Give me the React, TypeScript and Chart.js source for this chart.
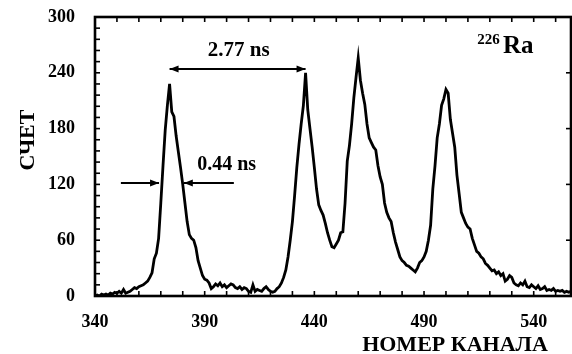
import { useEffect, useRef } from "react";
import { Chart, registerables } from "chart.js";

Chart.register(...registerables);

// ---- data ----
const channels = [
  340, 341, 342, 343, 344, 345, 346, 347, 348, 349, 350, 351, 352, 353, 354, 355, 356, 357, 358, 359,
  360, 361, 362, 363, 364, 365, 366, 367, 368, 369, 370, 371, 372, 373, 374, 375, 376, 377, 378, 379,
  380, 381, 382, 383, 384, 385, 386, 387, 388, 389, 390, 391, 392, 393, 394, 395, 396, 397, 398, 399,
  400, 401, 402, 403, 404, 405, 406, 407, 408, 409, 410, 411, 412, 413, 414, 415, 416, 417, 418, 419,
  420, 421, 422, 423, 424, 425, 426, 427, 428, 429, 430, 431, 432, 433, 434, 435, 436, 437, 438, 439,
  440, 441, 442, 443, 444, 445, 446, 447, 448, 449, 450, 451, 452, 453, 454, 455, 456, 457, 458, 459,
  460, 461, 462, 463, 464, 465, 466, 467, 468, 469, 470, 471, 472, 473, 474, 475, 476, 477, 478, 479,
  480, 481, 482, 483, 484, 485, 486, 487, 488, 489, 490, 491, 492, 493, 494, 495, 496, 497, 498, 499,
  500, 501, 502, 503, 504, 505, 506, 507, 508, 509, 510, 511, 512, 513, 514, 515, 516, 517, 518, 519,
  520, 521, 522, 523, 524, 525, 526, 527, 528, 529, 530, 531, 532, 533, 534, 535, 536, 537, 538, 539,
  540, 541, 542, 543, 544, 545, 546, 547, 548, 549, 550, 551, 552, 553, 554, 555, 556, 557, 558,
];

const counts = [
  0, 1, 0, 2, 1, 2, 1, 3, 2, 4, 3, 5, 3, 7, 3, 4, 5, 7, 9, 8,
  10, 11, 12, 14, 16, 20, 25, 40, 46, 62, 100, 140, 178, 205, 228, 198, 193, 172, 155, 138,
  120, 100, 80, 66, 62, 60, 52, 38, 30, 22, 18, 17, 14, 8, 10, 13, 11, 14, 10, 12,
  9, 11, 13, 12, 9, 8, 10, 7, 9, 8, 5, 4, 12, 5, 7, 6, 5, 8, 10, 7,
  5, 4, 5, 8, 10, 14, 20, 28, 42, 60, 80, 108, 138, 163, 185, 205, 240, 200, 180, 160,
  138, 115, 98, 92, 87, 78, 68, 60, 53, 52, 56, 60, 68, 69, 100, 145, 162, 185, 213, 235,
  256, 232, 218, 206, 185, 170, 165, 160, 157, 140, 128, 120, 100, 90, 84, 80, 68, 58, 50, 42,
  38, 36, 33, 32, 30, 28, 26, 30, 36, 38, 42, 48, 60, 76, 115, 140, 170, 185, 205, 212,
  222, 218, 190, 175, 160, 130, 110, 90, 84, 78, 74, 72, 62, 55, 48, 46, 42, 40, 35, 33,
  30, 27, 28, 24, 26, 22, 24, 16, 18, 22, 20, 14, 12, 11, 14, 12, 16, 10, 9, 12,
  10, 8, 11, 7, 8, 10, 6, 7, 6, 8, 5, 6, 5, 6, 4, 5, 4, 5, 4,
];

const xTickLabels = [340, 390, 440, 490, 540];
const yTickLabels = [0, 60, 120, 180, 240, 300];
const xTitle = "НОМЕР КАНАЛА";
const yTitle = "СЧЕТ";
const isotopeMass = "226";
const isotopeSymbol = "Ra";
const separationLabel = "2.77 ns";
const widthLabel = "0.44 ns";

const FONT = '"Liberation Serif", "Times New Roman", serif';

function arrow(ctx: CanvasRenderingContext2D, x1: number, y: number, x2: number, headStart: boolean, headEnd: boolean) {
  ctx.beginPath();
  ctx.moveTo(x1, y);
  ctx.lineTo(x2, y);
  ctx.stroke();
  const head = (tip: number, dir: number) => {
    ctx.beginPath();
    ctx.moveTo(tip, y);
    ctx.lineTo(tip - dir * 9, y - 3.5);
    ctx.lineTo(tip - dir * 9, y + 3.5);
    ctx.closePath();
    ctx.fill();
  };
  const dir = x2 > x1 ? 1 : -1;
  if (headEnd) head(x2, dir);
  if (headStart) head(x1, -dir);
}

const framePlugin = {
  id: "frameAndNotes",
  afterDraw(chart: any) {
    const { ctx, chartArea: a, scales } = chart;
    const xs = scales.x;
    const ys = scales.y;
    ctx.save();
    ctx.strokeStyle = "#000";
    ctx.fillStyle = "#000";
    // frame
    ctx.lineWidth = 2.6;
    ctx.strokeRect(a.left, a.top, a.right - a.left, a.bottom - a.top);
    // inward tick marks
    ctx.lineWidth = 1.6;
    for (let v = xs.min; v <= xs.max; v += 10) {
      const px = xs.getPixelForValue(v);
      ctx.beginPath();
      ctx.moveTo(px, a.bottom);
      ctx.lineTo(px, a.bottom - 5);
      ctx.moveTo(px, a.top);
      ctx.lineTo(px, a.top + 5);
      ctx.stroke();
    }
    for (let v = ys.min; v <= ys.max; v += 12) {
      const py = ys.getPixelForValue(v);
      ctx.beginPath();
      ctx.moveTo(a.left, py);
      ctx.lineTo(a.left + 5, py);
      ctx.stroke();
    }
    for (let v = ys.min; v <= ys.max; v += 60) {
      const py = ys.getPixelForValue(v);
      ctx.beginPath();
      ctx.moveTo(a.right, py);
      ctx.lineTo(a.right - 5, py);
      ctx.stroke();
    }

    // separation arrow (peak 1 to peak 2)
    ctx.lineWidth = 2;
    arrow(ctx, xs.getPixelForValue(374), ys.getPixelForValue(244), xs.getPixelForValue(436), true, true);
    // FWHM arrows
    const yw = ys.getPixelForValue(121.5);
    arrow(ctx, xs.getPixelForValue(351.8), yw, xs.getPixelForValue(369.2), false, true);
    arrow(ctx, xs.getPixelForValue(403.3), yw, xs.getPixelForValue(380.5), false, true);

    ctx.textBaseline = "middle";
    ctx.textAlign = "center";
    ctx.font = `bold 21px ${FONT}`;
    ctx.fillText(separationLabel, xs.getPixelForValue(405.5), ys.getPixelForValue(264));
    ctx.font = `bold 20px ${FONT}`;
    ctx.fillText(widthLabel, xs.getPixelForValue(400), ys.getPixelForValue(141));

    // isotope label
    ctx.textAlign = "left";
    ctx.textBaseline = "alphabetic";
    ctx.font = `bold 15px ${FONT}`;
    ctx.fillText(isotopeMass, xs.getPixelForValue(514.3), ys.getPixelForValue(271));
    ctx.font = `bold 25px ${FONT}`;
    ctx.fillText(isotopeSymbol, xs.getPixelForValue(526), ys.getPixelForValue(261));

    // axis titles
    ctx.textAlign = "center";
    ctx.textBaseline = "middle";
    ctx.font = `bold 22px ${FONT}`;
    ctx.fillText(xTitle, 455, 345);
    ctx.save();
    ctx.translate(28, 140);
    ctx.rotate(-Math.PI / 2);
    ctx.fillText(yTitle, 0, 0);
    ctx.restore();

    ctx.restore();
  },
};

export default function App() {
  const ref = useRef<HTMLCanvasElement | null>(null);
  useEffect(() => {
    if (!ref.current) return;
    const chart = new Chart(ref.current, {
      type: "line",
      data: {
        datasets: [
          {
            data: channels.map((c, i) => ({ x: c, y: counts[i] })),
            borderColor: "#000",
            borderWidth: 2.8,
            pointRadius: 0,
            tension: 0,
            fill: false,
          },
        ],
      },
      options: {
        animation: false,
        responsive: false,
        layout: { padding: { top: 17, right: 1, left: 0, bottom: 0 } },
        plugins: { legend: { display: false }, tooltip: { enabled: false } },
        scales: {
          x: {
            type: "linear",
            min: 340,
            max: 557,
            grid: { display: false },
            border: { display: false },
            ticks: {
              stepSize: 10,
              autoSkip: false,
              maxRotation: 0,
              padding: 8,
              color: "#000",
              font: { family: FONT, size: 18, weight: "bold" },
              callback: (v: any) => (xTickLabels.includes(Number(v)) ? String(v) : ""),
            },
            afterFit: (s: any) => {
              s.height = 58;
              s.paddingLeft = 0;
              s.paddingRight = 0;
            },
          },
          y: {
            type: "linear",
            min: 0,
            max: 300,
            grid: { display: false },
            border: { display: false },
            ticks: {
              stepSize: 60,
              padding: 12,
              color: "#000",
              font: { family: FONT, size: 18, weight: "bold" },
              callback: (v: any) => (yTickLabels.includes(Number(v)) ? String(v) : ""),
            },
            afterFit: (s: any) => {
              s.width = 95;
              s.paddingTop = 0;
              s.paddingBottom = 0;
            },
          },
        },
      },
      plugins: [framePlugin],
    });
    return () => chart.destroy();
  }, []);
  return (
    <div style={{ position: "absolute", left: 0, top: 0, width: 572, height: 354, background: "#fff" }}>
      <canvas ref={ref} width={572} height={354} />
    </div>
  );
}
